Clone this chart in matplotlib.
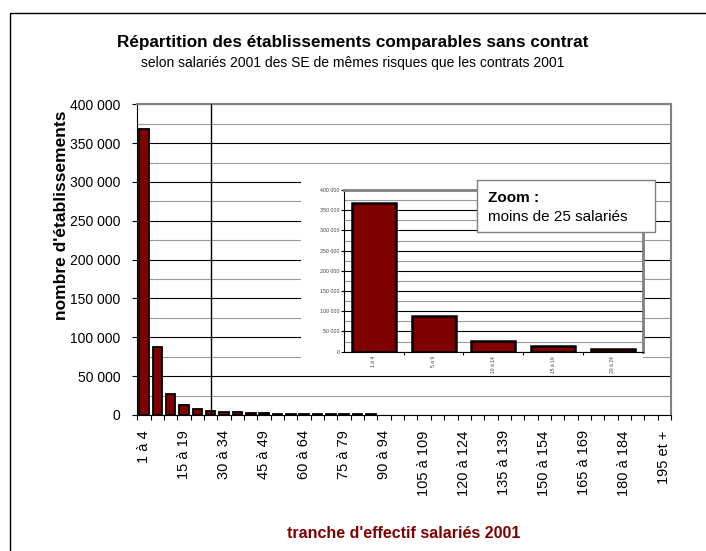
import numpy as np
import matplotlib
matplotlib.use("Agg")
import matplotlib.pyplot as plt
from matplotlib.patches import Rectangle
from matplotlib.lines import Line2D
from matplotlib.ticker import MultipleLocator, FuncFormatter

plt.rcParams['font.family'] = ['Liberation Sans', 'DejaVu Sans']

# tranches d'effectif (40 classes)
tranches = ["1 à 4", "5 à 9", "10 à 14", "15 à 19", "20 à 24", "25 à 29",
            "30 à 34", "35 à 39", "40 à 44", "45 à 49", "50 à 54", "55 à 59",
            "60 à 64", "65 à 69", "70 à 74", "75 à 79", "80 à 84", "85 à 89",
            "90 à 94", "95 à 99", "100 à 104", "105 à 109", "110 à 114",
            "115 à 119", "120 à 124", "125 à 129", "130 à 134", "135 à 139",
            "140 à 144", "145 à 149", "150 à 154", "155 à 159", "160 à 164",
            "165 à 169", "170 à 174", "175 à 179", "180 à 184", "185 à 189",
            "190 à 194", "195 et +"]
# nombre d'etablissements (les classes suivantes ~0)
effectifs = [368600, 87200, 26500, 13500, 7400, 5300, 4000, 3300, 2700,
             2200, 1800, 1500, 1300, 1100, 950, 850, 750, 650]

zoom_tranches = ["1 à 4", "5 à 9", "10 à 14", "15 à 19", "20 à 24"]
zoom_effectifs = [368600, 87200, 26500, 13500, 7400]

W, H = 706, 551
def fx(x):
    return x / W
def fy(y):
    return 1 - y / H

bar_col = '#800000'
fmt = FuncFormatter(lambda v, p: f"{int(v):,}".replace(",", " "))

fig = plt.figure(figsize=(W / 100, H / 100), dpi=100)

# ---- graphique principal
ax = fig.add_axes([fx(137.3), fy(415), (671 - 137.3) / W, (415 - 104.3) / H])
ax.bar(np.arange(len(effectifs)), effectifs, width=0.72, color=bar_col,
       edgecolor='black', linewidth=1.3, zorder=3)
ax.set_xlim(-0.5, 39.5)
ax.set_ylim(0, 400000)
ax.yaxis.set_major_locator(MultipleLocator(50000))
ax.yaxis.set_minor_locator(MultipleLocator(25000))
ax.yaxis.set_major_formatter(fmt)
ax.grid(which='major', axis='y', color='black', lw=0.8, zorder=1)
ax.grid(which='minor', axis='y', color='#999999', lw=0.8, zorder=1)
ax.set_axisbelow(True)
for s in ['top', 'right']:
    ax.spines[s].set_color('#808080')
    ax.spines[s].set_linewidth(1.5)
ax.axvline(5, color='black', lw=1, zorder=4)

ax.set_xticks(np.arange(-0.5, 40, 1))
ax.set_xticklabels([])
idx = list(range(0, 40, 3))
ax.set_xticks(idx, minor=True)
ax.set_xticklabels([tranches[i] for i in idx], minor=True, rotation=90,
                   va='top', ha='center', fontsize=10.5)
ax.tick_params(axis='x', which='major', length=3.6, direction='out')
ax.tick_params(axis='x', which='minor', length=0, pad=11)
ax.tick_params(axis='y', which='major', length=3.6, pad=8.5, labelsize=10)
ax.tick_params(axis='y', which='minor', length=0)

# fond blanc derriere le zoom
fig.add_artist(Rectangle((fx(301), fy(373)), (643 - 301) / W, (373 - 172) / H,
                         transform=fig.transFigure, facecolor='white',
                         edgecolor='none', zorder=1))

# ---- zoom moins de 25 salaries
ax2 = fig.add_axes([fx(344), fy(351.7), (642.7 - 344) / W, (351.7 - 190) / H],
                   zorder=2)
ax2.bar(np.arange(len(zoom_effectifs)), zoom_effectifs, width=0.74,
        color=bar_col, edgecolor='black', linewidth=1.8, zorder=3)
ax2.set_xlim(-0.5, 4.5)
ax2.set_ylim(0, 400000)
ax2.yaxis.set_major_locator(MultipleLocator(50000))
ax2.yaxis.set_minor_locator(MultipleLocator(25000))
ax2.yaxis.set_major_formatter(fmt)
ax2.grid(which='major', axis='y', color='black', lw=0.8, zorder=1)
ax2.grid(which='minor', axis='y', color='#999999', lw=0.8, zorder=1)
ax2.set_axisbelow(True)
for s in ['top', 'right']:
    ax2.spines[s].set_color('#808080')
    ax2.spines[s].set_linewidth(2)
ax2.set_xticks(np.arange(0.5, 4, 1))
ax2.set_xticklabels([])
ax2.set_xticks(np.arange(5), minor=True)
ax2.set_xticklabels(zoom_tranches, minor=True, rotation=90, va='top',
                    ha='center', fontsize=3.6, color='#404040')
ax2.tick_params(axis='x', which='major', length=2)
ax2.tick_params(axis='x', which='minor', length=0, pad=3)
ax2.tick_params(axis='y', which='major', length=2, pad=1, labelsize=3.8,
                labelcolor='#404040')
ax2.tick_params(axis='y', which='minor', length=0)

# encadre "Zoom"
fig.add_artist(Rectangle((fx(477), fy(232)), (655 - 477) / W, (232 - 180) / H,
                         transform=fig.transFigure, facecolor='white',
                         edgecolor='#808080', lw=1, zorder=5))
fig.text(fx(488), fy(201.7), "Zoom :", fontsize=11, fontweight='bold',
         va='baseline', zorder=6)
fig.text(fx(488), fy(220.7), "moins de 25 salariés", fontsize=11,
         va='baseline', zorder=6)

# titres
fig.text(0.5, fy(42), "Répartition des établissements comparables sans contrat",
         ha='center', va='center', fontsize=12.3, fontweight='bold')
fig.text(0.5, fy(63), "selon salariés 2001 des SE de mêmes risques que les contrats 2001",
         ha='center', va='center', fontsize=10)
fig.text(fx(62), fy(215), "nombre d'établissements", rotation=90,
         ha='center', va='center', fontsize=12.5, fontweight='bold')
fig.text(fx(404), fy(534), "tranche d'effectif salariés 2001", color=bar_col,
         ha='center', va='center', fontsize=11.5, fontweight='bold')

# cadre
fig.add_artist(Line2D([fx(10), fx(10), 1.0], [0, fy(12.7), fy(12.7)],
                      transform=fig.transFigure, color='black', lw=1))

fig.savefig('out.png', dpi=100)
